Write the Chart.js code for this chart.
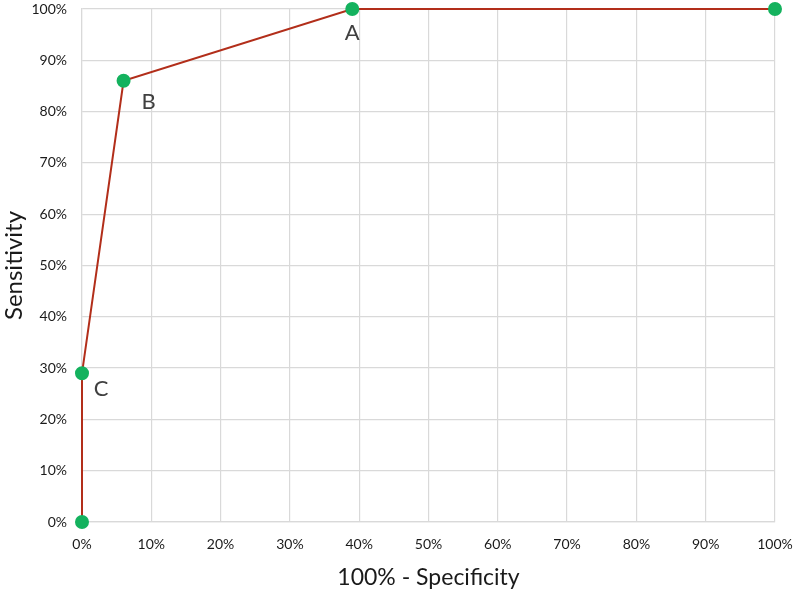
<!DOCTYPE html>
<html>
<head>
<meta charset="utf-8">
<script src="https://cdn.jsdelivr.net/npm/chart.js@4"></script>
<style>
  html, body { margin: 0; padding: 0; background: #fff; }
  #wrap { width: 795px; height: 591px; }
</style>
</head>
<body>
<div id="wrap"><canvas id="roc"></canvas></div>
<script>
// ROC curve points (percent)
const falsePositive = [0, 0, 6, 39, 100];     // 100% - Specificity
const sensitivity = [0, 29, 86, 100, 100];
const pointNames = ['', 'C', 'B', 'A', ''];

// label offsets relative to the point
const labelOffsets = { A: [0, 24], B: [25, 21], C: [19, 16] };

const pointLabels = {
    id: 'pointLabels',
    afterDatasetsDraw(chart) {
        const ctx = chart.ctx;
        const meta = chart.getDatasetMeta(0);
        ctx.save();
        ctx.font = '22px Lato, "Open Sans", sans-serif';
        ctx.fillStyle = '#404040';
        ctx.textAlign = 'center';
        ctx.textBaseline = 'middle';
        meta.data.forEach((pt, i) => {
            const name = pointNames[i];
            if (!name) return;
            const off = labelOffsets[name];
            ctx.fillText(name, pt.x + off[0], pt.y + off[1]);
        });
        ctx.restore();
    }
};

// keep the plot area fixed, ignore label overflow padding
function noOverflow(scale) {
    scale.paddingTop = 0;
    scale.paddingBottom = 0;
    scale.paddingLeft = 0;
    scale.paddingRight = 0;
}

new Chart(document.getElementById('roc'), {
    type: 'scatter',
    data: {
        datasets: [{
            data: falsePositive.map((x, i) => ({ x: x, y: sensitivity[i] })),
            showLine: true,
            borderColor: '#b22e1a',
            borderWidth: 2,
            pointBackgroundColor: '#14b25e',
            pointBorderColor: '#14b25e',
            pointRadius: 6,
            clip: false
        }]
    },
    options: {
        responsive: true,
        maintainAspectRatio: false,
        animation: false,
        layout: { padding: { top: 9, right: 20, left: 0, bottom: 0 } },
        plugins: {
            legend: { display: false },
            tooltip: { enabled: false }
        },
        scales: {
            x: {
                type: 'linear',
                min: 0,
                max: 100,
                afterFit(scale) { scale.height = 69; noOverflow(scale); },
                ticks: {
                    stepSize: 10,
                    color: '#1a1a1a',
                    font: { family: 'Lato, "Open Sans", sans-serif', size: 14 },
                    padding: 14,
                    maxRotation: 0,
                    callback: v => v + '%'
                },
                grid: { color: '#d9d9d9', lineWidth: 1.2, drawTicks: false },
                border: { color: '#d9d9d9', width: 1.2 },
                title: {
                    display: true,
                    text: '100% - Specificity',
                    color: '#1a1a1a',
                    font: { family: 'Lato, "Open Sans", sans-serif', size: 23 },
                    padding: { top: 4, bottom: 0 }
                }
            },
            y: {
                type: 'linear',
                min: 0,
                max: 100,
                afterFit(scale) { scale.width = 82; noOverflow(scale); },
                ticks: {
                    stepSize: 10,
                    color: '#1a1a1a',
                    font: { family: 'Lato, "Open Sans", sans-serif', size: 14 },
                    padding: 15,
                    callback: v => v + '%'
                },
                grid: { color: '#d9d9d9', lineWidth: 1.2, drawTicks: false },
                border: { color: '#d9d9d9', width: 1.2 },
                title: {
                    display: true,
                    text: 'Sensitivity',
                    color: '#1a1a1a',
                    font: { family: 'Lato, "Open Sans", sans-serif', size: 24 },
                    padding: { bottom: 0, top: 0 }
                }
            }
        }
    },
    plugins: [pointLabels]
});
</script>
</body>
</html>
